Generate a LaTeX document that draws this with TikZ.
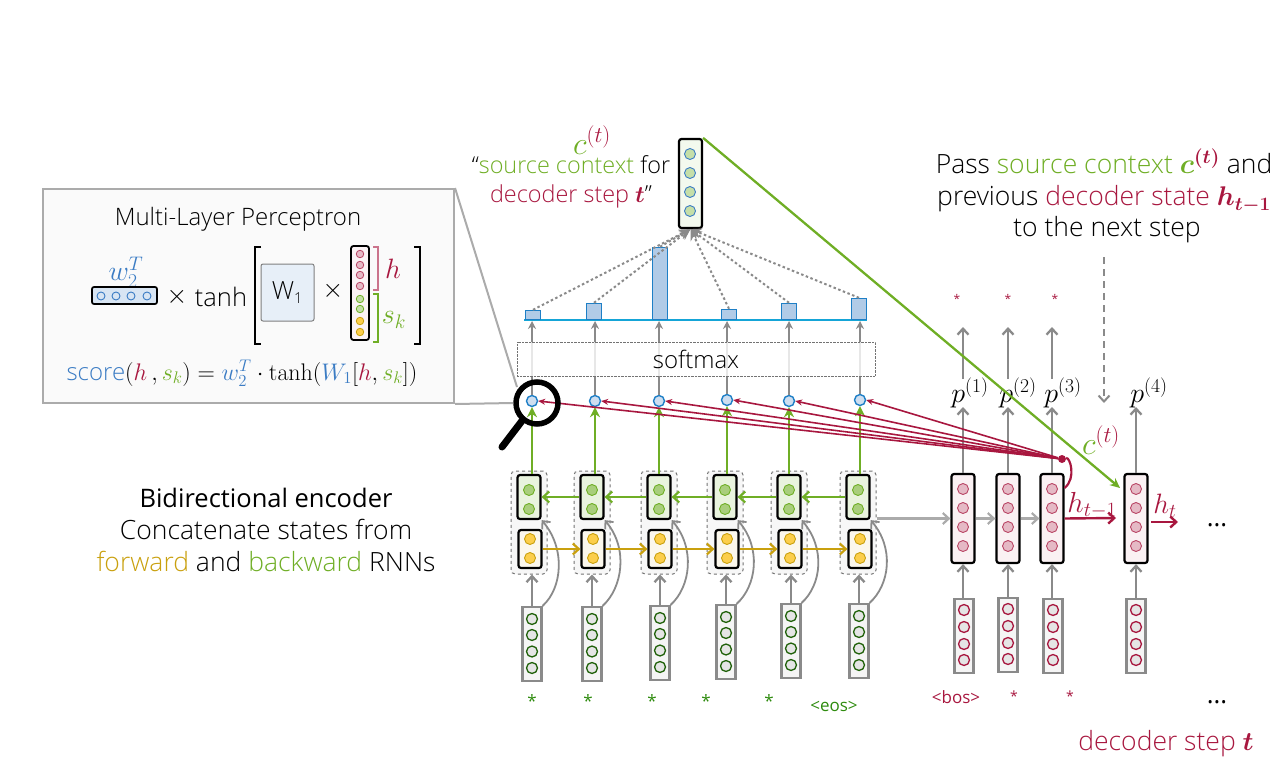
\documentclass[tikz,border=0pt]{standalone}
\usepackage{fix-cm}
\usepackage[no-math]{fontspec}
\usepackage{amsmath}
\setmainfont{Open Sans Light}
\newfontfamily\medfont{Open Sans}
\usepackage{xcolor}
\usetikzlibrary{arrows.meta}

\definecolor{crim}{HTML}{A8173F}
\definecolor{srcgreen}{HTML}{6FAE25}
\definecolor{fwyellow}{HTML}{C9A00E}
\definecolor{attblue}{HTML}{3B7CC4}
\definecolor{edgeblue}{HTML}{1E7FC6}
\definecolor{wordgreen}{HTML}{2E8B0E}
\definecolor{arrowgray}{HTML}{8A8A8A}
\definecolor{linegray}{HTML}{ABABAB}

\newcommand{\ctvar}{{\fontsize{32}{32}\selectfont$\textcolor{srcgreen}{c}^{\textcolor{crim}{(t)}}$}}
\newcommand{\ctbold}{{\fontsize{28}{28}\selectfont\boldmath$\textcolor{srcgreen}{c}^{\textcolor{crim}{(t)}}$}}

\tikzset{
    rnnbox/.style={draw=black,line width=2.2pt,rounded corners=2.5pt,inner sep=0pt,minimum width=23pt},
    wordbox/.style={draw=arrowgray,line width=2.2pt,fill=black!4,inner sep=0pt,minimum width=19pt,minimum height=74pt},
    dot/.style={circle,inner sep=0pt,minimum size=11pt,line width=0.9pt},
    greendot/.style={dot,fill=srcgreen!60,draw=srcgreen},
    yellowdot/.style={dot,fill=yellow!50!orange!70,draw=fwyellow},
    pinkdot/.style={dot,fill=crim!30,draw=crim!80},
    enworddot/.style={dot,fill=black!10,draw=wordgreen!70!black,line width=1.3pt},
    deworddot/.style={dot,fill=black!10,draw=crim,line width=1.3pt},
    attdot/.style={dot,fill=attblue!25,draw=edgeblue,line width=1.4pt},
    bar/.style={draw=edgeblue,line width=1.2pt,fill=attblue!40,inner sep=0pt,minimum width=15pt,anchor=south},
    grayarrow/.style={draw=arrowgray,line width=2.3pt,-{Straight Barb[length=6pt,width=11pt]}},
    uparrow/.style={draw=arrowgray,line width=2pt,-{Stealth[length=8pt,width=8pt]}},
    big/.style={font=\fontsize{26.5}{32}\selectfont,align=center,inner sep=0pt},
    lbl/.style={font=\fontsize{28}{30}\selectfont,inner sep=0pt},
    small/.style={font=\medfont\fontsize{17}{20}\selectfont,inner sep=0pt},
}

\begin{document}
\begin{tikzpicture}[x=1pt,y=-1pt]
    \useasboundingbox (0,0) rectangle (1287,762);

    % encoder
    \foreach \i/\gx/\yx/\inx/\iny in {1/529/530/532/644,2/592/593/592/644,3/659/660/660/643,4/725/727/726/642,5/789/790/791/641,6/858/860/859/641} {
        \node[draw=black!55,dashed,line width=1pt,fill=black!3,rounded corners=4pt,minimum width=36pt,minimum height=103pt,inner sep=0pt] (grp\i) at (\gx,522.5) {};
        \node[rnnbox,fill=srcgreen!15,minimum height=44pt] (bw\i) at (\gx,497) {};
        \node[rnnbox,fill=fwyellow!8,minimum height=38pt] (fw\i) at (\yx,549) {};
        \node[greendot] (bw\i-a) at (\gx,490) {};
        \node[greendot] (bw\i-b) at (\gx,509) {};
        \node[yellowdot] (fw\i-a) at (\yx,539) {};
        \node[yellowdot] (fw\i-b) at (\yx,558) {};
        \node[wordbox] (in\i) at (\inx,\iny) {};
        \foreach \k [count=\j] in {-25,-9,7.5,24}
            \node[enworddot] (in\i-\j) at ({\inx},{\iny+(\k)}) {};
        \draw[grayarrow] (in\i.north) -- (in\i.north |- grp\i.south);
        \draw[grayarrow,line width=1.8pt] (in\i.north east) .. controls +(20,-18) and +(24,28) .. (bw\i.south east);
    }
    \foreach \i/\j in {1/2,2/3,3/4,4/5,5/6} {
        \draw[draw=srcgreen,line width=2.2pt,-{Straight Barb[length=6pt,width=11pt]}] (bw\j.west) -- (bw\i.east);
        \draw[draw=fwyellow,line width=2.2pt,-{Straight Barb[length=6pt,width=11pt]}] (fw\i.east) -- (fw\j.west);
    }

    \node[small,text=wordgreen] (w1) at (532,701) {*};
    \node[small,text=wordgreen] (w2) at (588,701) {*};
    \node[small,text=wordgreen] (w3) at (652,701) {*};
    \node[small,text=wordgreen] (w4) at (706,701) {*};
    \node[small,text=wordgreen] (w5) at (769,701) {*};
    \node[small,text=wordgreen] (w6) at (834,706) {<eos>};

    % attention scores and softmax
    \draw[draw=edgeblue!70!cyan,line width=1.6pt] (524,320) coordinate (axl) -- (867,320) coordinate (axr);
    \foreach \i/\ax/\ay/\bx/\bh in {1/532/401/533/9,2/595/401/594/16,3/659/401/660/72,4/727/400/729/10,5/789/401/789/16,6/860/400/859/21} {
        \node[attdot] (att\i) at (\ax,\ay) {};
        \node[bar,minimum height=\bh pt] (bar\i) at (\bx,320) {};
        \coordinate (ax\i) at (\ax,321);
        \draw[uparrow] (att\i.north) -- (ax\i);
        \draw[draw=srcgreen,line width=2.6pt,-{Stealth[length=10pt,width=10pt]}] (att\i.south |- bw\i.north) -- (att\i.south);
    }
    \node[draw=black!55,densely dotted,fill=white,fill opacity=0.8,text opacity=1,minimum width=358pt,minimum height=34pt,inner sep=0pt,font=\fontsize{24}{26}\selectfont] (softmax) at (696,359) {softmax};

    % context vector
    \node[rnnbox,fill=srcgreen!8,minimum height=89pt] (ctx) at (690.5,183.5) {};
    \foreach \k [count=\j] in {154,173,192,211}
        \node[dot,fill=srcgreen!40,draw=attblue] (ctx-\j) at (690,\k) {};
    \foreach \i in {1,...,6}
        \draw[draw=arrowgray,line width=2pt,dash pattern=on 2.5pt off 2.5pt,-{Stealth[length=11pt,width=10pt]}] (bar\i.north) -- (ctx.south);

    \node[inner sep=0pt] (ctxlabel) at (592,140) {\ctvar};
    \node[big,font=\fontsize{23.4}{29}\selectfont] (ctxtext) at (571,182) {“\textcolor{srcgreen}{source context} for\\\textcolor{crim}{decoder step {\boldmath$t$}}”};

    % decoder
    \foreach \i/\dx/\ix/\iy in {1/963/964/636,2/1008/1008/635,3/1052/1053/636,4/1136/1136/636} {
        \node[rnnbox,fill=crim!6,minimum height=89pt] (dec\i) at (\dx,518.5) {};
        \foreach \k [count=\j] in {489,508,527,546}
            \node[pinkdot] (dec\i-\j) at (\dx,\k) {};
        \node[wordbox] (tgt\i) at (\ix,\iy) {};
        \foreach \k [count=\j] in {-26,-9,8,24}
            \node[deworddot] (tgt\i-\j) at ({\ix},{\iy+(\k)}) {};
        \draw[grayarrow] (tgt\i.north) -- (tgt\i.north -| dec\i.south) -- (dec\i.south);
    }
    \node[lbl] (p1) at (970,393) {$p^{(1)}$};
    \node[lbl] (p2) at (1018,393) {$p^{(2)}$};
    \node[lbl] (p3) at (1063,393) {$p^{(3)}$};
    \node[lbl] (p4) at (1149,393) {$p^{(4)}$};
    \foreach \i in {1,...,4}
        \draw[grayarrow] (dec\i.north) -- (dec\i.north |- 0,407);
    \foreach \i/\sx in {1/957,2/1008,3/1055} {
        \node[small,text=crim,font=\medfont\fontsize{12}{14}\selectfont] (star\i) at (\sx,299) {*};
        \draw[grayarrow] (dec\i |- 0,379) -- (dec\i |- 0,327);
    }
    \draw[draw=linegray,line width=2.2pt,-{Straight Barb[length=6pt,width=11pt]}] (grp6.east |- dec1.west) -- (dec1.west);
    \draw[draw=linegray,line width=2.2pt,-{Straight Barb[length=6pt,width=11pt]}] (dec1.east) -- (dec2.west);
    \draw[draw=linegray,line width=2.2pt,-{Straight Barb[length=6pt,width=11pt]}] (dec2.east) -- (dec3.west);

    \coordinate (hend) at (1116,518);
    \draw[draw=crim,line width=2.4pt,-{Straight Barb[length=6pt,width=11pt]}] (dec3.east) -- (hend);
    \coordinate (hnext) at (1178,522);
    \draw[draw=crim,line width=2.4pt,-{Straight Barb[length=6pt,width=11pt]}] (1151,522) coordinate (hstart) -- (hnext);
    \node[lbl,text=crim,font=\fontsize{29}{30}\selectfont] (hprev) at (1092,505) {$h_{t-1}$};
    \node[lbl,text=crim] (hcur) at (1165,506) {$h_t$};
    \node[big,font=\medfont\fontsize{25.5}{32}\selectfont] (dots1) at (1217,525) {...};
    \node[big,font=\medfont\fontsize{25.5}{32}\selectfont] (dots2) at (1217,702) {...};

    % attention query
    \node[circle,fill=crim,inner sep=0pt,minimum width=7pt,minimum height=8pt] (hdot) at (1062,459) {};
    \draw[draw=crim,line width=2.2pt] (dec3.east |- 0,488) .. controls +(12,-10) and +(8,-2) .. (hdot);
    \foreach \i in {1,...,6}
        \draw[draw=crim,line width=1.6pt,-{Stealth[length=7pt,width=6pt]}] (hdot) -- (att\i.east);

    \coordinate (ctxend) at (1120,488);
    \draw[draw=srcgreen,line width=2.3pt,-{Stealth[length=10pt,width=9pt]}] (ctx.north east) -- (ctxend);
    \node[inner sep=0pt] (cnext) at (1101,440) {\ctvar};

    % notes
    \node[big,anchor=base] (pass1) at (1104,174) {Pass \textcolor{srcgreen}{source context} \ctbold\ and};
    \node[big,anchor=base] (pass2) at (1104,206) {previous \textcolor{crim}{decoder state} {\fontsize{27}{30}\selectfont\boldmath$\textcolor{crim}{h_{t-1}}$}};
    \node[big,anchor=base] (pass3) at (1107,236) {to the next step};
    \coordinate (dashtop) at (1104,257);
    \coordinate (dashend) at (1104,403);
    \draw[draw=arrowgray,line width=2pt,dash pattern=on 7pt off 5pt,-{Straight Barb[length=6pt,width=11pt]}] (dashtop) -- (dashend);
    \node[big] (encnote) at (266,530) {{\medfont\fontsize{25.5}{32}\selectfont Bidirectional encoder}\\Concatenate states from\\\textcolor{fwyellow}{forward} and \textcolor{srcgreen}{backward} RNNs};
    \node[small,text=crim] (bos) at (956,697) {<bos>};
    \node[small,text=crim,font=\medfont\fontsize{14}{16}\selectfont] (t2) at (1014,696) {*};
    \node[small,text=crim,font=\medfont\fontsize{14}{16}\selectfont] (t3) at (1070,696) {*};
    \node[big,text=crim] (stepnote) at (1166,744) {decoder step {\boldmath$t$}};

    % panel
    \node[draw=linegray,line width=2pt,fill=black!2,minimum width=411pt,minimum height=214pt,inner sep=0pt] (panel) at (248.5,296) {};
    \node[inner sep=0pt,font=\fontsize{24}{26}\selectfont] (mlp) at (238,219) {Multi-Layer Perceptron};
    \node[lbl,text=attblue] (wlabel) at (126,272) {$w_2^T$};
    \node[draw=black,line width=1.7pt,rounded corners=2pt,fill=attblue!20,minimum width=65pt,minimum height=17pt,inner sep=0pt] (wbox) at (124.5,295.5) {};
    \foreach \k [count=\j] in {101,116,131,147}
        \node[circle,draw=attblue,fill=attblue!20,line width=0.9pt,inner sep=0pt,minimum size=8pt] (wbox-\j) at (\k,296) {};
    \node[big] (times1) at (177,297) {$\times$};
    \node[big,font=\fontsize{25.5}{32}\selectfont] (tanh) at (221,297) {tanh};
    \draw[line width=1.5pt] (261,247) -- (255,247) -- (255,344) -- (261,344);
    \draw[line width=1.5pt] (414,247) -- (420,247) -- (420,344) -- (414,344);
    \node[draw=black!50,line width=1pt,rounded corners=2pt,fill=attblue!12,minimum width=53pt,minimum height=57pt,inner sep=0pt,font=\fontsize{25}{26}\selectfont] (w1box) at (287.5,292.5) {W$_{\text{\fontsize{15}{16}\selectfont 1}}$};
    \node[big] (times2) at (333,291) {$\times$};
    \node[rnnbox,fill=crim!5,minimum width=18pt,minimum height=94pt,line width=1.8pt] (vec) at (360,293) {};
    \foreach \k [count=\j] in {254,265,275,286}
        \node[circle,draw=crim!80,fill=crim!30,line width=0.8pt,inner sep=0pt,minimum size=7.5pt] (vec-h\j) at (360,\k) {};
    \foreach \k [count=\j] in {299,309}
        \node[circle,draw=srcgreen,fill=srcgreen!40,line width=0.8pt,inner sep=0pt,minimum size=7.5pt] (vec-b\j) at (360,\k) {};
    \foreach \k [count=\j] in {321,332}
        \node[circle,draw=fwyellow,fill=yellow!50!orange!70,line width=0.8pt,inner sep=0pt,minimum size=7.5pt] (vec-f\j) at (360,\k) {};
    \draw[draw=crim!60,line width=1.1pt] (373,247) -- (378,247) -- (378,290) -- (373,290);
    \draw[draw=srcgreen,line width=1.1pt] (373,294) -- (378,294) -- (378,342) -- (373,342);
    \node[lbl,text=crim] (hlabel) at (393,269) {$h$};
    \node[lbl,text=srcgreen] (slabel) at (394,320) {$s_k$};
    \node[inner sep=0pt,font=\fontsize{24}{26}\selectfont] (score) at (242,373) {\textcolor{attblue}{score}$(\textcolor{crim}{h}\,,\textcolor{srcgreen}{s_k})=\textcolor{attblue}{w_2^T}\cdot\mathrm{tanh}(\textcolor{attblue}{W_1}[\textcolor{crim}{h},\textcolor{srcgreen}{s_k}])$};

    % lens
    \coordinate (lenstop) at (517,387);
    \draw[draw=linegray,line width=2pt] (panel.north east) -- (lenstop);
    \node[circle,draw=black,line width=5.5pt,inner sep=0pt,minimum size=42pt] (lens) at (537,403) {};
    \draw[draw=linegray,line width=2pt] (panel.south east) -- (lens.west);
    \coordinate (lensend) at (502,447);
    \draw[line width=7pt,line cap=round] (lens.230) -- (lensend);
\end{tikzpicture}
\end{document}
